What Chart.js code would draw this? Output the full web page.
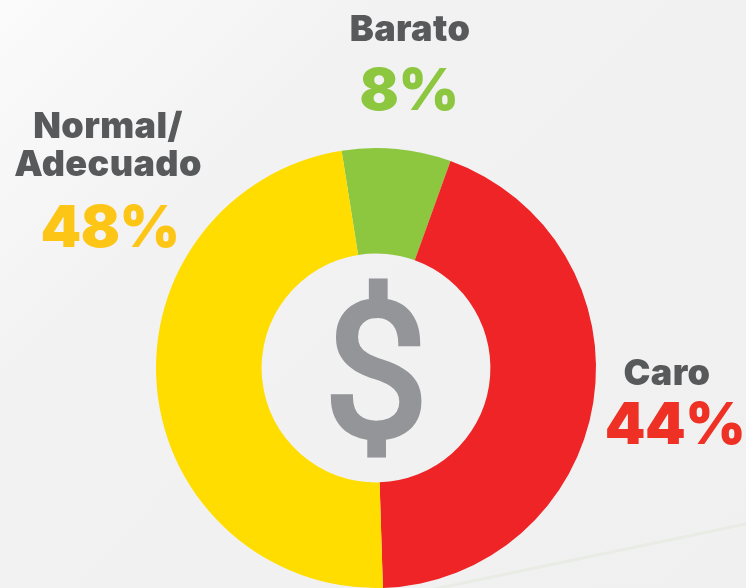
<!DOCTYPE html>
<html>
<head>
<meta charset="utf-8">
<script src="https://cdn.jsdelivr.net/npm/chart.js@4"></script>
<style>
html,body{margin:0;padding:0}
body{width:746px;height:588px;overflow:hidden;position:relative;background:linear-gradient(135deg,#fbfbfb 0%,#f2f2f2 30%,#f0f0f0 100%);font-family:Inter,"Liberation Sans",sans-serif}
#wrap{position:absolute;left:0;top:0;width:746px;height:588px}
.txt{position:absolute;transform:translateX(-50%);text-align:center;white-space:nowrap}
.name{color:#58595b;font-size:36px;font-weight:900;line-height:38px;letter-spacing:.4px}
.pct{font-size:58px;font-weight:900;line-height:58px;letter-spacing:-.5px}
#dollar{position:absolute;left:376px;top:372px;transform:translate(-50%,-50%);font-family:Roboto,sans-serif;font-weight:400;font-size:188px;line-height:190px;color:#939598;-webkit-text-stroke:5px #939598;stroke-linejoin:round}
#streak{position:absolute;left:420px;top:555px;width:340px;height:3px;background:#e9ece4;transform:rotate(-11.8deg)}
</style>
</head>
<body>
<div id="streak"></div>
<div id="wrap"><canvas id="myChart" width="746" height="588"></canvas></div>
<div id="dollar">$</div>
<script>
const categories = ['Barato', 'Caro', 'Normal/\nAdecuado']
const shares = [8, 44, 48]
const sliceColors = ['#8dc63f', '#ee2426', '#ffdd00']
const textColors = ['#8dc63f', '#ee3124', '#fdc616']
const startAngle = -9

// where the label blocks sit: name centre x, percent centre x, name top, percent top
const labelSpots = [
  {x: 410, pctX: 409, nameTop: 9, pctTop: 60},
  {x: 667, pctX: 675, nameTop: 353, pctTop: 394},
  {x: 108, pctX: 110, nameTop: 106, pctTop: 197}
]

const ctx = document.getElementById('myChart').getContext('2d')
new Chart(ctx, {
  type: 'doughnut',
  data: {
    labels: categories,
    datasets: [{
      data: shares,
      backgroundColor: sliceColors,
      borderWidth: 0
    }]
  },
  options: {
    responsive: false,
    animation: false,
    cutout: '52%',
    rotation: startAngle,
    layout: {padding: {left: 155, right: 149, top: 148, bottom: -2}},
    plugins: {legend: {display: false}, tooltip: {enabled: false}}
  }
})

categories.forEach((name, i) => {
  const spot = labelSpots[i]
  const n = document.createElement('div')
  n.className = 'txt name'
  n.style.left = spot.x + 'px'
  n.style.top = spot.nameTop + 'px'
  n.innerHTML = name.replace('\n', '<br>')
  document.body.appendChild(n)
  const p = document.createElement('div')
  p.className = 'txt pct'
  p.style.left = spot.pctX + 'px'
  p.style.top = spot.pctTop + 'px'
  p.style.color = textColors[i]
  p.textContent = shares[i] + '%'
  document.body.appendChild(p)
})
</script>
</body>
</html>
